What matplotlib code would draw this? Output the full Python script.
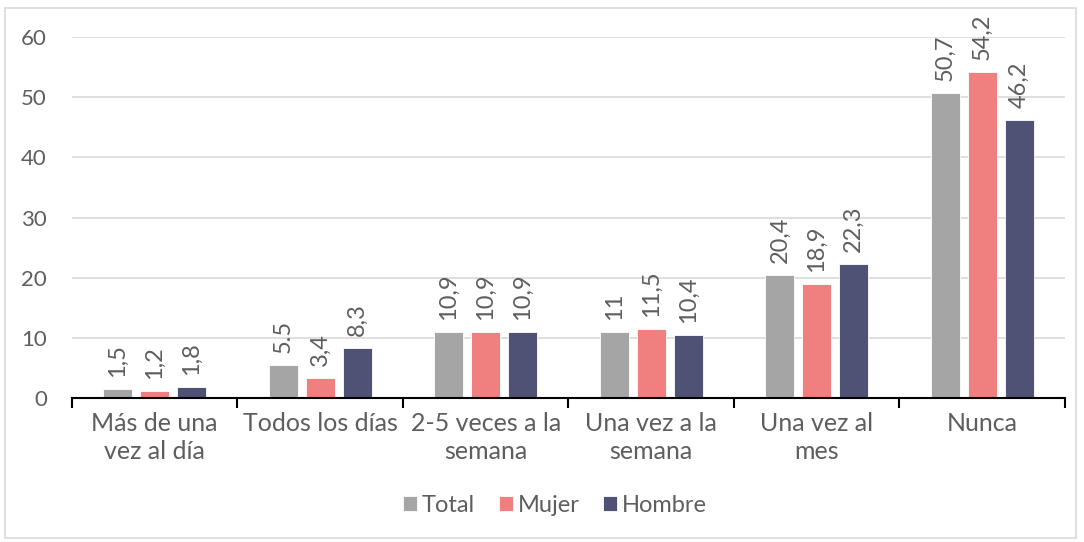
import matplotlib.pyplot as plt
import numpy as np
from matplotlib.patches import Rectangle

categories = ["Más de una\nvez al día", "Todos los días", "2-5 veces a la\nsemana",
              "Una vez a la\nsemana", "Una vez al\nmes", "Nunca"]
series_names = ["Total", "Mujer", "Hombre"]
total = [1.5, 5.5, 10.9, 11, 20.4, 50.7]
mujer = [1.2, 3.4, 10.9, 11.5, 18.9, 54.2]
hombre = [1.8, 8.3, 10.9, 10.4, 22.3, 46.2]
total_labels = ["1,5", "5.5", "10,9", "11", "20,4", "50,7"]
mujer_labels = ["1,2", "3,4", "10,9", "11,5", "18,9", "54,2"]
hombre_labels = ["1,8", "8,3", "10,9", "10,4", "22,3", "46,2"]

colors = ["#A5A5A5", "#F08080", "#4F5175"]
text_color = "#5E5E5E"

plt.rcParams['font.family'] = ['Lato', 'DejaVu Sans']

fig = plt.figure(figsize=(10.84, 5.42), dpi=100)
ax = fig.add_axes([0.0664, 0.2657, 0.916, 0.666])

# light border around the whole chart area
fig.patches.append(Rectangle((0.005, 0.008), 0.988, 0.978, transform=fig.transFigure,
                             fill=False, edgecolor="#D9D9D9", linewidth=1.2))

x = np.arange(len(categories))
offset = 0.223
width = 0.175
data = [total, mujer, hombre]
labels = [total_labels, mujer_labels, hombre_labels]
for i, (vals, labs) in enumerate(zip(data, labels)):
    pos = x + (i - 1) * offset
    bars = ax.bar(pos, vals, width, color=colors[i], edgecolor="white", linewidth=0.6,
                  label=series_names[i], zorder=3)
    for b, v, t in zip(bars, vals, labs):
        ax.text(b.get_x() + b.get_width() / 2, v + 2.0, t, rotation=90, ha="center",
                va="bottom", fontsize=17, color=text_color)

ax.set_xlim(-0.5, len(categories) - 0.5)
ax.set_ylim(0, 60)
ax.set_yticks(range(0, 61, 10))
ax.yaxis.grid(True, color="#D9D9D9", linewidth=1.2, zorder=0)
ax.set_axisbelow(True)

ax.set_xticks(x)
ax.set_xticklabels(categories, fontsize=18, color=text_color, linespacing=1.25)
ax.set_xticks(np.arange(-0.5, len(categories)), minor=True)
ax.tick_params(axis="x", which="major", length=0, pad=10)
ax.tick_params(axis="x", which="minor", length=7, width=1.5, direction="out", color="black")
ax.tick_params(axis="y", length=0, labelsize=16, labelcolor=text_color, pad=18)

for s in ["top", "right", "left"]:
    ax.spines[s].set_visible(False)
ax.spines["bottom"].set_linewidth(1.5)
ax.spines["bottom"].set_zorder(4)

fig.legend(loc="center", bbox_to_anchor=(0.512, 0.068), ncol=3, frameon=False,
           fontsize=17, labelcolor=text_color, handlelength=0.6, handleheight=0.6,
           handletextpad=0.2, columnspacing=1.0)

fig.savefig("out.png", dpi=100)
